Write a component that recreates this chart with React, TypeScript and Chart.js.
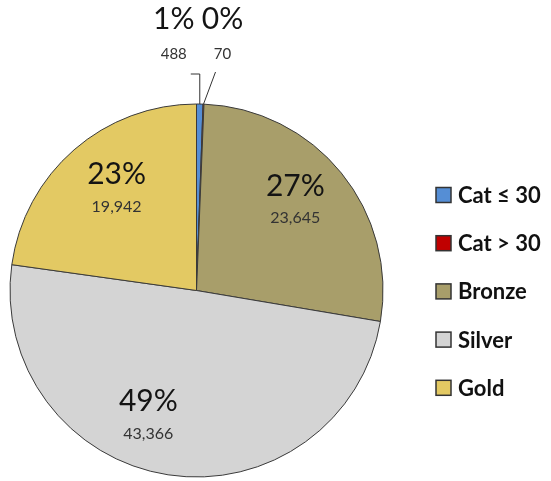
import React, { useEffect, useRef } from "react";
import { Chart, registerables } from "chart.js";

Chart.register(...registerables);

const categories = ["Cat ≤ 30", "Cat > 30", "Bronze", "Silver", "Gold"];
const counts = [488, 70, 23645, 43366, 19942];
const percentLabels = ["1%", "0%", "27%", "49%", "23%"];
const sliceColors = ["#558ED5", "#C00000", "#A89E6A", "#D4D4D4", "#E3C963"];

const FONT = "Lato, 'Open Sans', sans-serif";

// small nudges (px) applied to the automatically placed inside labels, like a "best fit" placement
const labelNudge: Record<number, [number, number]> = {
  2: [-4, -6],
  3: [-28, -5],
  4: [7, -1],
};

const sliceLabelPlugin = {
  id: "sliceLabels",
  afterDatasetsDraw(chart: any) {
    const ctx: CanvasRenderingContext2D = chart.ctx;
    const meta = chart.getDatasetMeta(0);
    const total = counts.reduce((a, b) => a + b, 0);
    let smallIdx = 0;
    meta.data.forEach((arc: any, i: number) => {
      const { x, y, startAngle, endAngle, outerRadius } = arc.getProps(
        ["x", "y", "startAngle", "endAngle", "outerRadius"],
        true
      );
      const mid = (startAngle + endAngle) / 2;
      const frac = counts[i] / total;
      const valueText = counts[i].toLocaleString("en-US");
      ctx.save();
      ctx.textAlign = "center";
      ctx.textBaseline = "middle";
      if (frac >= 0.05) {
        const r = outerRadius * 0.71;
        const nudge = labelNudge[i] || [0, 0];
        const lx = x + Math.cos(mid) * r + nudge[0];
        const ly = y + Math.sin(mid) * r + nudge[1];
        ctx.fillStyle = "#141414";
        ctx.font = `30px ${FONT}`;
        ctx.fillText(percentLabels[i], lx, ly - 15);
        ctx.fillStyle = "#333333";
        ctx.font = `16px ${FONT}`;
        ctx.fillText(valueText, lx, ly + 17);
      } else {
        const ex = x + Math.cos(mid) * outerRadius;
        const ey = y + Math.sin(mid) * outerRadius;
        const topY = y - outerRadius - 30;
        let lx: number;
        ctx.strokeStyle = "#333333";
        ctx.lineWidth = 1;
        ctx.beginPath();
        if (smallIdx % 2 === 0) {
          ctx.moveTo(ex, ey);
          ctx.lineTo(ex, topY);
          ctx.lineTo(ex - 9, topY);
          lx = ex - 26;
        } else {
          ctx.moveTo(ex, ey);
          ctx.lineTo(ex + 12, topY - 2);
          lx = ex + 19;
        }
        ctx.stroke();
        smallIdx++;
        ctx.fillStyle = "#141414";
        ctx.font = `30px ${FONT}`;
        ctx.fillText(percentLabels[i], lx, topY - 55);
        ctx.fillStyle = "#333333";
        ctx.font = `15px ${FONT}`;
        ctx.fillText(valueText, lx, topY - 20);
      }
      ctx.restore();
    });
  },
};

const legendPlugin = {
  id: "sideLegend",
  afterDraw(chart: any) {
    const ctx: CanvasRenderingContext2D = chart.ctx;
    const labels: string[] = chart.data.labels;
    const colors: string[] = chart.data.datasets[0].backgroundColor;
    const x0 = 436;
    const y0 = 195;
    const step = 48.2;
    ctx.save();
    labels.forEach((lab, i) => {
      const cy = y0 + i * step;
      ctx.fillStyle = colors[i];
      ctx.fillRect(x0, cy - 7.5, 15, 15);
      ctx.strokeStyle = "#333333";
      ctx.lineWidth = 1.5;
      ctx.strokeRect(x0, cy - 7.5, 15, 15);
      ctx.fillStyle = "#111111";
      ctx.font = `bold 22px ${FONT}`;
      ctx.textAlign = "left";
      ctx.textBaseline = "middle";
      ctx.fillText(lab, x0 + 22, cy + 1);
    });
    ctx.restore();
  },
};

export default function App() {
  const ref = useRef<HTMLCanvasElement | null>(null);
  useEffect(() => {
    if (!ref.current) return;
    const chart = new Chart(ref.current, {
      type: "pie",
      data: {
        labels: categories,
        datasets: [
          {
            data: counts,
            backgroundColor: sliceColors,
            borderColor: "#3a3a3a",
            borderWidth: 1,
          },
        ],
      },
      options: {
        responsive: false,
        animation: false,
        radius: 186.5,
        layout: { padding: { left: 10, right: 168, top: 104, bottom: 4 } },
        plugins: {
          legend: { display: false },
          tooltip: { enabled: false },
        },
      } as any,
      plugins: [sliceLabelPlugin, legendPlugin],
    });
    return () => chart.destroy();
  }, []);
  return (
    <div style={{ position: "absolute", left: 0, top: 0, width: 551, height: 481, background: "#fff" }}>
      <canvas ref={ref} width={551} height={481} />
    </div>
  );
}
